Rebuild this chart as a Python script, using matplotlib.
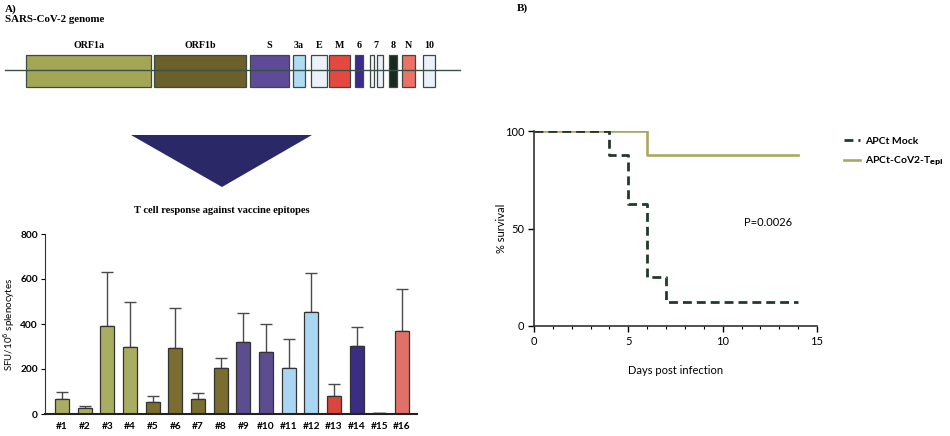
import matplotlib
matplotlib.use("Agg")
import matplotlib.pyplot as plt
from matplotlib.patches import Rectangle, Polygon
import numpy as np

# ---------------- data ----------------
gene_names = ["ORF1a", "ORF1b", "S", "3a", "E", "M", "6", "7", "7", "8", "N", "10"]
gene_start = [26, 154, 250, 293, 311, 329, 355, 370, 377, 389, 402, 423]
gene_end = [151, 246, 289, 305, 327, 350, 363, 374, 383, 397, 415, 435]
gene_colors = ["#a3a655", "#6b5f2a", "#5e4b97", "#aedcf4", "#eaf1fa", "#e5483e",
               "#3b2b8f", "#f2f6fb", "#eaf1fa", "#18291f", "#ec7268", "#eaf1fa"]
gene_label_show = [True, True, True, True, True, True, True, True, False, True, True, True]

epitopes = ["#1", "#2", "#3", "#4", "#5", "#6", "#7", "#8",
            "#9", "#10", "#11", "#12", "#13", "#14", "#15", "#16"]
sfu_mean = [65, 25, 393, 300, 52, 293, 68, 205, 322, 277, 205, 452, 82, 302, 3, 368]
sfu_upper = [100, 35, 630, 497, 80, 472, 95, 247, 450, 400, 335, 625, 132, 387, 6, 557]
bar_colors = ["#a9ad62"] * 4 + ["#7a6d2f"] * 4 + ["#5c4d8e"] * 2 + ["#a9d6f2"] * 2 + \
             ["#d9463c", "#3b2d84", "#2b2b2b", "#e07068"]

days_mock = [0, 4, 5, 6, 7, 14]
surv_mock = [100, 87.5, 62.5, 25, 12.5, 12.5]
days_vax = [0, 6, 14]
surv_vax = [100, 87.5, 87.5]
p_text = "P=0.0026"

sans = ["Lato", "DejaVu Sans"]
serif = ["Liberation Serif", "DejaVu Serif"]

fig = plt.figure(figsize=(9.5, 4.36), dpi=100)

# ---------------- schematic overlay ----------------
ov = fig.add_axes([0, 0, 1, 1])
ov.set_xlim(0, 950)
ov.set_ylim(436, 0)
ov.axis("off")

ov.text(5, 9, "A)", family=serif, weight="bold", fontsize=8, va="center", ha="left")
ov.text(5, 19.5, "SARS-CoV-2 genome", family=serif, weight="bold", fontsize=7.8,
        va="center", ha="left")
ov.text(517, 8, "B)", family=serif, weight="bold", fontsize=8, va="center", ha="left")

ov.plot([5, 460], [70.5, 70.5], color="#3d5048", lw=1.0, zorder=3)
for name, s, e, c, show in zip(gene_names, gene_start, gene_end, gene_colors, gene_label_show):
    ov.add_patch(Rectangle((s, 55), e - s, 32, facecolor=c, edgecolor="#3c4a42",
                           lw=0.9, zorder=2))
    if show:
        xc = (s + e) / 2 if name != "7" else 375.5
        ov.text(xc, 45, name, family=serif, weight="bold", fontsize=7.2,
                ha="center", va="center")

ov.add_patch(Polygon([[131, 135], [312, 135], [222, 187]], closed=True,
                     facecolor="#2a2866", edgecolor="none"))
ov.text(222, 210, "T cell response against vaccine epitopes", family=serif,
        weight="bold", fontsize=7.6, ha="center", va="center")

# ---------------- bar chart ----------------
ax1 = fig.add_axes([45 / 950, 1 - 414 / 436, 372 / 950, 180 / 436])
x = np.arange(len(epitopes))
err = [u - m for u, m in zip(sfu_upper, sfu_mean)]
ax1.bar(x, sfu_mean, width=0.62, color=bar_colors, edgecolor="#333333", lw=0.9, zorder=2)
ax1.errorbar(x, sfu_mean, yerr=[np.zeros(len(err)), err], fmt="none",
             ecolor="#4a4a4a", elinewidth=1.0, capsize=4, capthick=1.0, zorder=1)
ax1.set_xlim(-0.75, 15.66)
ax1.set_ylim(0, 800)
ax1.set_yticks([0, 200, 400, 600, 800])
ax1.set_xticks(x)
ax1.set_xticklabels(epitopes, family=sans, weight="bold", fontsize=7.3)
for lab in ax1.get_yticklabels():
    lab.set_family(sans)
    lab.set_fontweight("bold")
    lab.set_fontsize(7.3)
ax1.spines["top"].set_visible(False)
ax1.spines["right"].set_visible(False)
ax1.spines["left"].set_color("#333333")
ax1.spines["bottom"].set_color("#222222")
ax1.spines["bottom"].set_linewidth(1.5)
ax1.tick_params(axis="x", length=0, pad=6)
ax1.tick_params(axis="y", length=3, width=0.8, pad=2)
ax1.set_ylabel(r"SFU/10$^6$ splenocytes", family=sans, fontsize=7)
ax1.yaxis.set_label_coords(-0.074, 0.5)

# ---------------- survival ----------------
ax2 = fig.add_axes([534 / 950, 1 - 326 / 436, 283 / 950, 195 / 436])
ax2.step(days_vax, surv_vax, where="post", color="#a9a862", lw=1.9,
         label=r"APCt-CoV2-T$_{\mathbf{epi}}$", zorder=2)
ax2.step(days_mock, surv_mock, where="post", color="#1f3b2b", lw=2.0,
         dashes=(3.2, 1.8), label="APCt Mock", zorder=3)
ax2.set_xlim(0, 15)
ax2.set_ylim(0, 100)
ax2.set_xticks([0, 5, 10, 15])
ax2.set_xticks(np.arange(0, 16, 1), minor=True)
ax2.set_yticks([0, 50, 100])
ax2.spines["top"].set_visible(False)
ax2.spines["right"].set_visible(False)
ax2.spines["left"].set_color("#333333")
ax2.spines["bottom"].set_color("#333333")
ax2.spines["left"].set_linewidth(1.2)
ax2.spines["bottom"].set_linewidth(1.2)
ax2.tick_params(axis="both", which="major", length=4, width=1.0, labelsize=8, pad=3)
ax2.tick_params(axis="x", which="minor", length=2.5, width=0.8)
for lab in ax2.get_xticklabels() + ax2.get_yticklabels():
    lab.set_family(sans)
ax2.set_xlabel("Days post infection", family=sans, fontsize=8, labelpad=13)
ax2.set_ylabel("% survival", family=sans, fontsize=8)
ax2.yaxis.set_label_coords(-0.095, 0.5)
ax2.text(12.4, 53.3, p_text, family=sans, fontsize=8, ha="center", va="center")

h, l = ax2.get_legend_handles_labels()
leg = fig.legend([h[1], h[0]], [l[1], l[0]], loc="upper left",
                 bbox_to_anchor=(838 / 950, 1 - 130 / 436), frameon=False,
                 prop={"family": sans, "weight": "bold", "size": 7.5},
                 handlelength=1.5, handletextpad=0.5, labelspacing=0.9,
                 borderaxespad=0.2)

fig.savefig("out.png", dpi=100)
